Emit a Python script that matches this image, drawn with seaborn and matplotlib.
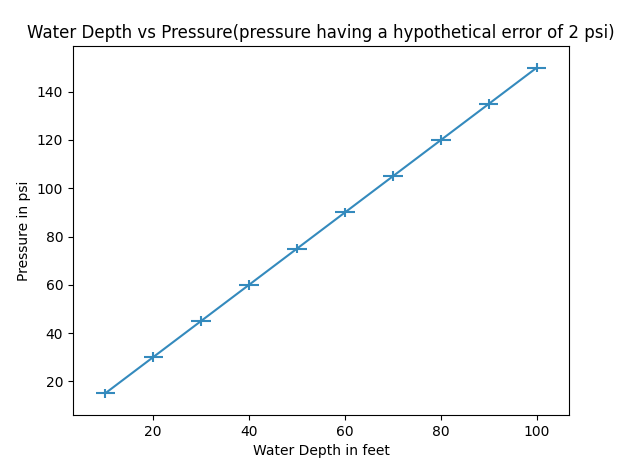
import matplotlib
matplotlib.use('Agg')
import matplotlib.pyplot as plt
import seaborn as sns
import pandas as pd

# data
depth = [10, 20, 30, 40, 50, 60, 70, 80, 90, 100]
pressure = [15, 30, 45, 60, 75, 90, 105, 120, 135, 150]
x_err = 2
y_err = 2

df = pd.DataFrame({'depth': depth, 'pressure': pressure})

fig = plt.figure(figsize=(6.21, 4.65), dpi=100)
W, H = 621, 465
ax = fig.add_axes([73 / W, 1 - 415 / H, (569 - 73) / W, (415 - 46) / H])

color = '#348ABD'
sns.lineplot(data=df, x='depth', y='pressure', ax=ax, color=color, linewidth=1.5)
ax.errorbar(df['depth'], df['pressure'], xerr=x_err, yerr=y_err, fmt='none',
            ecolor=color, elinewidth=1.5)

ax.set_title('Water Depth vs Pressure(pressure having a hypothetical error of 2 psi)')
ax.set_xlabel('Water Depth in feet')
ax.set_ylabel('Pressure in psi')

fig.savefig('out.png', dpi=100)
